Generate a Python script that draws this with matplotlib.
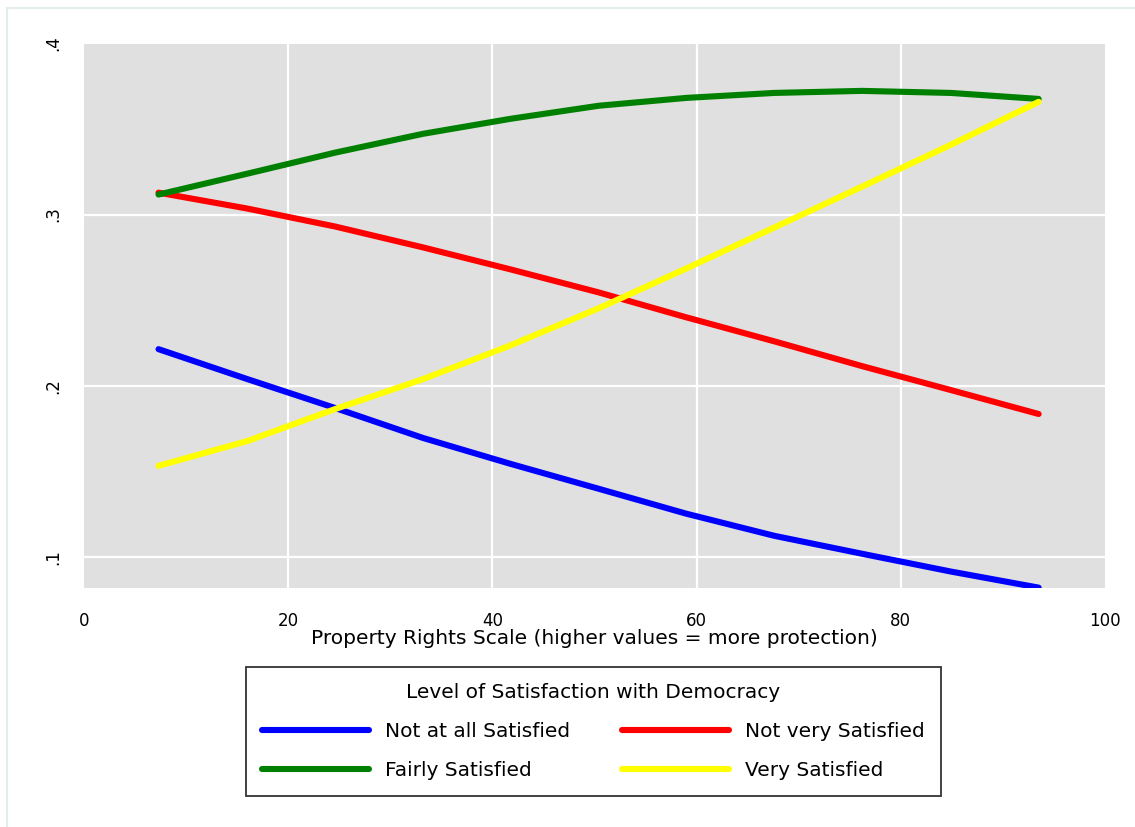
import matplotlib
matplotlib.use("Agg")
import matplotlib.pyplot as plt
from matplotlib.patches import Rectangle

# Property rights scale grid at which predicted probabilities were computed
property_rights = [7.3, 16.0, 24.6, 33.2, 41.8, 50.4, 59.0, 67.6, 76.2, 84.9, 93.5]

# Predicted probability for each level of satisfaction with democracy
not_at_all = [0.2213, 0.2038, 0.1869, 0.1694, 0.1542, 0.1397, 0.1251, 0.1122, 0.1017, 0.0913, 0.0819]
not_very = [0.3128, 0.3035, 0.2930, 0.2808, 0.2679, 0.2545, 0.2399, 0.2259, 0.2114, 0.1974, 0.1834]
fairly = [0.3117, 0.3239, 0.3362, 0.3472, 0.3560, 0.3636, 0.3682, 0.3711, 0.3723, 0.3711, 0.3676]
very = [0.1531, 0.1676, 0.1863, 0.2038, 0.2236, 0.2452, 0.2685, 0.2924, 0.3163, 0.3408, 0.3659]

series_labels = ["Not at all Satisfied", "Not very Satisfied", "Fairly Satisfied", "Very Satisfied"]
series_colors = ["#0000ff", "#ff0000", "#008000", "#ffff00"]

x_ticks = [0, 20, 40, 60, 80, 100]
y_ticks = [0.1, 0.2, 0.3, 0.4]
y_tick_labels = [".1", ".2", ".3", ".4"]

plt.rcParams["font.family"] = ["DejaVu Sans"]

fig = plt.figure(figsize=(11.35, 8.27), dpi=100)
fig.patch.set_facecolor("white")

# faint outline of the graph region
fig.patches.append(Rectangle((7 / 1135, -0.1), 1.2, 1 - 8 / 827 + 0.1,
                             transform=fig.transFigure, fill=False,
                             edgecolor="#e4ecee", linewidth=1.5, zorder=0))

ax = fig.add_axes([84 / 1135, 1 - 588.3 / 827, 1021 / 1135, (588.3 - 43.5) / 827])
ax.set_facecolor("#e0e0e0")
for s in ax.spines.values():
    s.set_visible(False)

ax.set_xlim(0, 100)
ax.set_ylim(0.0815, 0.3991)
ax.set_xticks(x_ticks)
ax.set_yticks(y_ticks)
ax.set_yticklabels(y_tick_labels, rotation=90, va="center")
ax.tick_params(axis="both", length=0, labelsize=12)
ax.tick_params(axis="x", pad=17)
ax.tick_params(axis="y", pad=16)

for gx in [20, 40, 60, 80]:
    ax.axvline(gx, color="white", lw=1.6, zorder=1)
for gy in [0.1, 0.2, 0.3]:
    ax.axhline(gy, color="white", lw=1.6, zorder=1)

handles = []
for vals, lab, col in zip([not_at_all, not_very, fairly, very], series_labels, series_colors):
    h, = ax.plot(property_rights, vals, color=col, lw=4.4, solid_capstyle="round",
                 solid_joinstyle="round", label=lab, zorder=3)
    handles.append(h)

ax.set_xlabel("Property Rights Scale (higher values = more protection)", fontsize=14.5, labelpad=-1)

# legend laid out row by row: two entries per row
order = [0, 2, 1, 3]
leg = fig.legend([handles[i] for i in order], [series_labels[i] for i in order], ncol=2,
                 loc="center", bbox_to_anchor=(593.5 / 1135, 1 - 731.5 / 827),
                 title="Level of Satisfaction with Democracy", title_fontsize=14.5,
                 fontsize=14.5, frameon=True, fancybox=False, edgecolor="black",
                 handlelength=5.3, handletextpad=0.8, columnspacing=2.6,
                 borderpad=0.8, labelspacing=1.0, borderaxespad=0)
leg.get_frame().set_linewidth(1.3)
for lh in leg.get_lines():
    lh.set_linewidth(4.4)

fig.savefig("out.png", dpi=100)
